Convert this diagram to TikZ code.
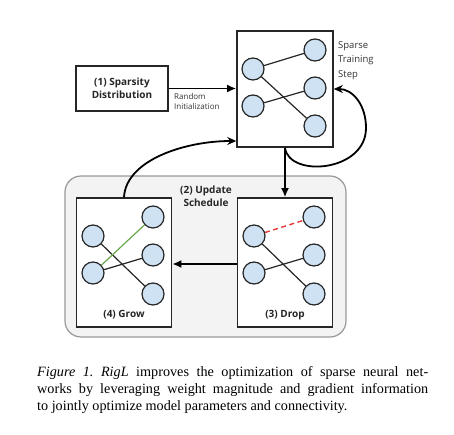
\documentclass[tikz,border=0pt]{standalone}
\usepackage{fontspec}
\setmainfont{Liberation Serif}
\newfontfamily\diagfont{Open Sans}
\usetikzlibrary{arrows.meta}
\definecolor{nodefill}{HTML}{CFE2F3}
\definecolor{panelfill}{HTML}{F3F3F3}
\definecolor{panelline}{HTML}{999999}
\definecolor{growgreen}{HTML}{6AA84F}
\definecolor{dropred}{HTML}{E53935}
\definecolor{labelgray}{HTML}{333333}
\tikzset{
  neuron/.style={circle, draw=black!85, line width=1.2pt, fill=nodefill, minimum size=22pt, inner sep=0pt},
  netbox/.style={draw=black!85, line width=1.6pt, fill=white},
  edge/.style={draw=black!85, line width=1.2pt},
  bigarrow/.style={draw=black, line width=1.8pt, -{Latex[length=9pt,width=8pt]}},
  looparrow/.style={draw=black, line width=1.8pt, -{Stealth[length=9pt,width=8pt]}},
  boldlabel/.style={font=\diagfont\bfseries\fontsize{10pt}{13pt}\selectfont, align=center, text=black!85},
  smalllabel/.style={font=\diagfont\fontsize{8pt}{10.5pt}\selectfont, align=left, text=labelgray},
  sidelabel/.style={font=\diagfont\fontsize{9.5pt}{14.5pt}\selectfont, align=left, text=labelgray},
}
\begin{document}
\begin{tikzpicture}[x=1pt, y=-1pt]
\useasboundingbox (0,0) rectangle (454,435);
% outer panel
\node[draw=panelline, fill=panelfill, line width=1.2pt, rounded corners=16pt, minimum width=281pt, minimum height=161pt, inner sep=0pt] (panel) at (205.5,256.5) {};
% boxes
\node[netbox, minimum width=96pt, minimum height=116pt, inner sep=0pt] (top) at (285,89) {};
\node[netbox, minimum width=92pt, minimum height=45pt, inner sep=0pt, boldlabel] (dist) at (122,88.5) {(1) Sparsity\\Distribution};
\node[netbox, minimum width=95pt, minimum height=129pt, inner sep=0pt] (grow) at (124,262.5) {};
\node[netbox, minimum width=95pt, minimum height=129pt, inner sep=0pt] (drop) at (285,262.5) {};
% top network
\node[neuron] (tL1) at (253,69) {};
\node[neuron] (tL2) at (253,106) {};
\node[neuron] (tR1) at (315,50) {};
\node[neuron] (tR2) at (315,88) {};
\node[neuron] (tR3) at (315,126) {};
\draw[edge] (tL1) -- (tR1);
\draw[edge] (tL1) -- (tR3);
\draw[edge] (tL2) -- (tR2);
% grow network
\node[neuron] (gL1) at (93,236) {};
\node[neuron] (gL2) at (93,273) {};
\node[neuron] (gR1) at (153,217) {};
\node[neuron] (gR2) at (153,255) {};
\node[neuron] (gR3) at (153,294) {};
\draw[edge] (gL1) -- (gR3);
\draw[edge] (gL2) -- (gR2);
\draw[draw=growgreen, line width=1.2pt] (gL2) -- (gR1);
% drop network
\node[neuron] (dL1) at (254,236) {};
\node[neuron] (dL2) at (254,273) {};
\node[neuron] (dR1) at (314,217) {};
\node[neuron] (dR2) at (314,255) {};
\node[neuron] (dR3) at (314,294) {};
\draw[edge] (dL1) -- (dR3);
\draw[edge] (dL2) -- (dR2);
\draw[draw=dropred, line width=1.4pt, dash pattern=on 5pt off 3.5pt] (dL1) -- (dR1);
% labels
\node[boldlabel] (upd) at (206,196) {(2) Update\\Schedule};
\node[boldlabel] (growlbl) at (124,315) {(4) Grow};
\node[boldlabel] (droplbl) at (285,315) {(3) Drop};
\node[smalllabel, anchor=north west, inner sep=0pt] (rand) at (174,93) {Random\\Initialization};
\node[sidelabel, anchor=north west, inner sep=0pt] (sts) at (338,41) {Sparse\\Training\\Step};
% arrows
\draw[bigarrow] (dist.east) -- (top.west |- dist.east);
\draw[bigarrow] (top.south) -- (drop.north);
\draw[bigarrow] (drop.west |- 0,264) -- (grow.east |- 0,264);
\draw[looparrow] (grow.north) .. controls (126,160) and (185,141) .. (top.west |- 0,141);
\draw[looparrow] (top.south) .. controls (289,178) and (366,172) .. (366,128) .. controls (366,104) and (352,89) .. (top.east |- 0,89);
% caption
\node[anchor=north west, inner sep=0pt, text width=391pt, align=justify, font=\fontsize{14.2pt}{17pt}\selectfont] (cap) at (37,366) {\frenchspacing\textit{Figure 1. RigL} improves the optimization of sparse neural net-\linebreak works by leveraging weight magnitude and gradient information\linebreak to jointly optimize model parameters and connectivity.};
\end{tikzpicture}
\end{document}
